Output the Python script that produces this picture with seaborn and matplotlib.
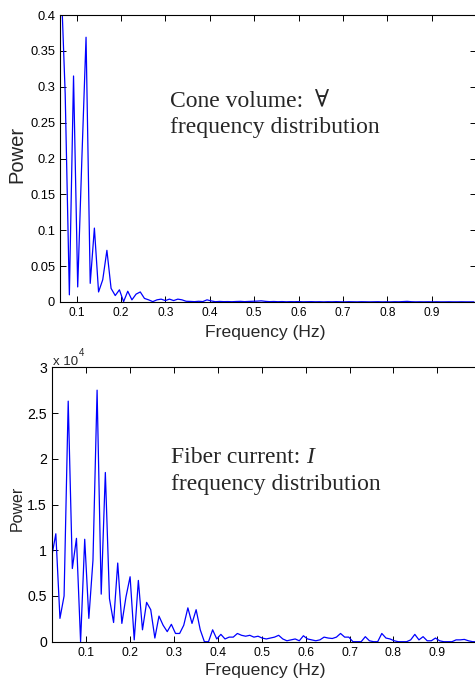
import numpy as np
import pandas as pd
import seaborn as sns
import matplotlib.pyplot as plt

# Power spectrum of the cone volume (first bin, bin width in Hz)
cone_f0 = 0.0648
cone_df = 0.0094
cone_power = [
    0.45, 0.29, 0.010, 0.315, 0.021, 0.20, 0.369, 0.026, 0.103, 0.014,
    0.031, 0.072, 0.019, 0.009, 0.017, 0.0005, 0.015, 0.003, 0.011, 0.014,
    0.005, 0.003, 0.0005, 0.003, 0.004, 0.002, 0.004, 0.002, 0.004, 0.003,
    0.001, 0.0008, 0.0005, 0.001, 0.0006, 0.003, 0.0015, 0.0004, 0.0008, 0.0005,
    0.0006, 0.0004, 0.0007, 0.0009, 0.0005, 0.0008, 0.0010, 0.0012, 0.0016, 0.0009,
    0.0005, 0.0007, 0.0004, 0.0006, 0.0003, 0.0005, 0.0004, 0.0006, 0.0003, 0.0004,
    0.0005, 0.0003, 0.0004, 0.0002, 0.0004, 0.0003, 0.0005, 0.0003, 0.0002, 0.0004,
    0.0003, 0.0002, 0.0004, 0.0003, 0.0002, 0.0003, 0.0004, 0.0002, 0.0003, 0.0002,
    0.0004, 0.0003, 0.0006, 0.0009, 0.0004, 0.0002, 0.0003, 0.0002, 0.0003, 0.0002,
    0.0003, 0.0002, 0.0002, 0.0003, 0.0002, 0.0002, 0.0003, 0.0002, 0.0002, 0.0002,
]

# Power spectrum of the fiber current, in units of 1e4
fiber_f0 = 0.0216
fiber_df = 0.0094
fiber_power_e4 = [
    0.93, 1.18, 0.255, 0.50, 2.63, 0.80, 1.13, 0.00, 1.12, 0.255,
    0.89, 2.75, 0.52, 1.85, 0.47, 0.21, 0.86, 0.20, 0.49, 0.71,
    0.02, 0.67, 0.13, 0.43, 0.35, 0.04, 0.28, 0.18, 0.11, 0.19,
    0.09, 0.09, 0.18, 0.37, 0.20, 0.35, 0.13, 0.00, 0.00, 0.13,
    0.03, 0.08, 0.03, 0.05, 0.05, 0.09, 0.07, 0.06, 0.07, 0.05,
    0.06, 0.04, 0.03, 0.04, 0.05, 0.07, 0.03, 0.01, 0.02, 0.03,
    0.01, 0.065, 0.03, 0.02, 0.01, 0.02, 0.05, 0.04, 0.035, 0.05,
    0.09, 0.05, 0.05, 0.00, 0.00, 0.00, 0.055, 0.01, 0.00, 0.00,
    0.09, 0.04, 0.03, 0.01, 0.00, 0.00, 0.00, 0.02, 0.08, 0.02,
    0.055, 0.01, 0.01, 0.04, 0.01, 0.00, 0.00, 0.00, 0.02, 0.02,
    0.025, 0.01, 0.00, 0.00, 0.00,
]

x_ticks = [0.1, 0.2, 0.3, 0.4, 0.5, 0.6, 0.7, 0.8, 0.9]
cone_yticks = [0, 0.05, 0.1, 0.15, 0.2, 0.25, 0.3, 0.35, 0.4]
cone_yticklabels = ["0", "0.05", "0.1", "0.15", "0.2", "0.25", "0.3", "0.35", "0.4"]
fiber_yticks = [0, 0.5, 1, 1.5, 2, 2.5, 3]
fiber_yticklabels = ["0", "0.5", "1", "1.5", "2", "2.5", "3"]

cone = pd.DataFrame({
    "freq": cone_f0 + cone_df * np.arange(len(cone_power)),
    "power": cone_power,
})
fiber = pd.DataFrame({
    "freq": fiber_f0 + fiber_df * np.arange(len(fiber_power_e4)),
    "power": fiber_power_e4,
})

sns.set_style("ticks")
plt.rcParams["font.family"] = ["Liberation Sans", "DejaVu Sans"]
plt.rcParams["axes.linewidth"] = 0.8

W, H = 475, 681
fig = plt.figure(figsize=(W / 100, H / 100), dpi=100)


def px_axes(left, top, right, bottom):
    return fig.add_axes([left / W, 1 - bottom / H, (right - left) / W, (bottom - top) / H])


ax1 = px_axes(60, 15, 476, 302)
ax2 = px_axes(51.7, 367.3, 481.2, 641.7)

blue = "#0000ff"
sns.lineplot(data=cone, x="freq", y="power", ax=ax1, color=blue, lw=0.9)
sns.lineplot(data=fiber, x="freq", y="power", ax=ax2, color=blue, lw=0.9)

for ax in (ax1, ax2):
    ax.set_xticks(x_ticks)
    ax.set_xticklabels([f"{t:g}" for t in x_ticks])
    ax.set_xlabel("")
    ax.set_ylabel("")
    ax.tick_params(direction="in", top=True, right=True, length=4, width=0.7,
                   colors="black", pad=3.5)
    for s in ax.spines.values():
        s.set_visible(True)
        s.set_color("black")

ax1.set_xlim(0.0625, 1.0)
ax1.set_ylim(0, 0.4)
ax1.set_yticks(cone_yticks)
ax1.set_yticklabels(cone_yticklabels)
ax1.tick_params(axis="x", labelsize=8.6)
ax1.tick_params(axis="y", labelsize=9.3)

ax2.set_xlim(0.0216, 1.0)
ax2.set_ylim(0, 3)
ax2.set_yticks(fiber_yticks)
ax2.set_yticklabels(fiber_yticklabels)
ax2.tick_params(axis="x", labelsize=8.8)
ax2.tick_params(axis="y", labelsize=10.2)


def fig_text(x, y, s, **kw):
    return fig.text(x / W, 1 - y / H, s, **kw)


# axis labels
fig_text(265.5, 337, "Frequency (Hz)", ha="center", va="baseline", fontsize=12.6)
fig_text(265.5, 675, "Frequency (Hz)", ha="center", va="baseline", fontsize=12.6)
fig_text(16.5, 154, "Power", rotation=90, ha="center", va="center", fontsize=14.5)
fig_text(17, 508, "Power", rotation=90, ha="center", va="center", fontsize=11.5)

# scale factor of the lower panel
fig_text(53, 365, "x 10", ha="left", va="baseline", fontsize=9.5)
fig_text(78.5, 356.5, "4", ha="left", va="baseline", fontsize=7)

# panel annotations
serif = ["Liberation Serif", "DejaVu Serif"]
fig_text(170, 107, "Cone volume:  \u2200", ha="left", va="baseline",
         fontsize=17, family=serif)
fig_text(170, 133, "frequency distribution", ha="left", va="baseline",
         fontsize=17, family=serif)
t = fig_text(170.7, 463, "Fiber current: ", ha="left", va="baseline",
             fontsize=17, family=serif)
ax2.annotate("I", xy=(1, 0), xycoords=t, ha="left", va="bottom",
             fontsize=17, family=serif, style="italic")
fig_text(170.7, 490, "frequency distribution", ha="left", va="baseline",
         fontsize=17, family=serif)

fig.savefig("out.png", dpi=100)
